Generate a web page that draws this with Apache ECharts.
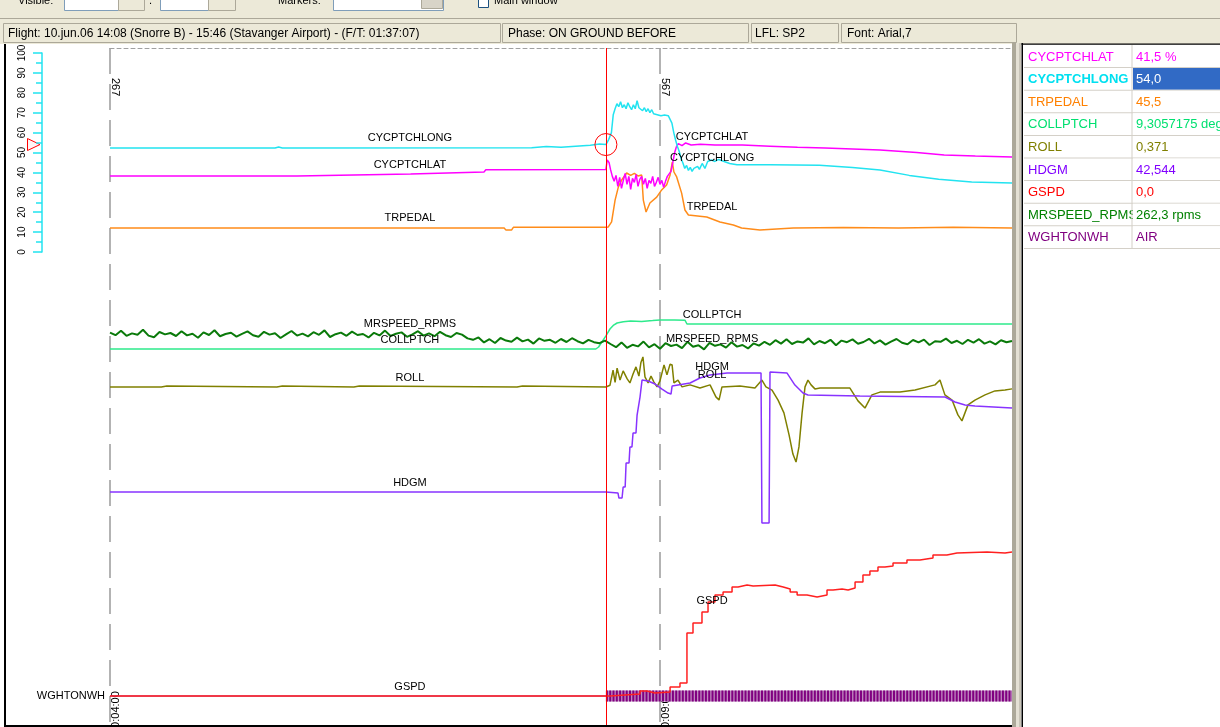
<!DOCTYPE html>
<html>
<head>
<meta charset="utf-8">
<title>Flight data view</title>
<script src="https://cdn.jsdelivr.net/npm/echarts@6/dist/echarts.min.js"></script>
<style>
html, body { margin: 0; padding: 0; overflow: hidden; background: #fff; }
#chart { width: 1220px; height: 727px; }
</style>
</head>
<body>
<div id="chart"></div>
<script>
const FONT = '"Liberation Sans", Arial, sans-serif'

// time axis in seconds, sample counter runs 27 ahead of it
const timeStart = 240
const timeEnd = 732
const timeStep = 300
const sampleStart = 267
const cursorTime = 510.5

// [time s, value] per parameter
const longData = [[240,52.3],[330,52.3],[332,52.8],[334,52.3],[470,52.4],[478,53.0],[486,52.6],[494,53.2],[502,53.6],[507,54.3],[510.5,54.0],[512,56.5],[513.5,60],[514.5,69],[515.5,72],[516.5,74.5],[517.5,73],[518.5,75.5],[519.5,72.5],[520.5,74],[521.5,72],[522.5,75],[523.5,73],[524.5,71.5],[525.5,74],[526.5,72],[527.5,76],[528.5,72.5],[529.5,73.5],[530.5,71],[531.5,72.5],[532.5,70.5],[533.5,72],[534.5,70],[535.5,71.5],[536.5,69.5],[537.5,70.5],[538.5,69],[539.5,70],[540.5,68.5],[541.5,69.5],[542.5,68.8],[543.5,69.5],[544.5,68.5],[545.5,67.5],[546.5,64.8],[547.5,60],[548.5,56.3],[549.5,53],[550.5,50.5],[551.5,47],[552.5,44.7],[553.5,42],[554.5,43.5],[555.5,41],[556.5,42.5],[557.5,40.5],[558.5,42],[559.5,41],[560.5,43],[561.5,41.5],[563,44.5],[564.5,42],[566,45.5],[568,46.2],[570,45.5],[572,46.5],[575,45.5],[578,44.5],[582,43.8],[600,43.8],[627,43.6],[645,42.5],[660,41.2],[676,38.5],[692,36.5],[710,35.2],[732,34.7]]

const latData = [[240,38.2],[342,38.2],[343,39.2],[404,39.2],[405,40.2],[444,40.2],[445,41.3],[510.5,41.5],[511.2,46.2],[512.2,45],[513,41.5],[514,38],[515,35.5],[516,38.5],[517,33],[518,37.5],[519,32],[520,36],[521,39.5],[522,34],[523,38],[524,31.5],[525,37],[526,35],[527,39],[528,33],[529,36.5],[530,38],[531,34],[532,37],[533,32],[534,36],[535,34.5],[536,38],[537,33],[538,35],[539,37.5],[540,34],[541,36],[542,32.5],[543,35.5],[544,38],[545,37],[546,40.5],[547,45],[548,50],[549,53],[550,54.5],[552,53.5],[554,54.8],[557,53.8],[562,54.2],[570,53.8],[585,53.8],[600,53.2],[615,52.6],[630,52.3],[645,51.8],[660,51.3],[680,50],[695,48.7],[712,48.2],[732,47.7]]

const pedalData = [[240,12.1],[455,12.1],[456,11.0],[459,11.0],[460,12.4],[510.5,12.4],[511.8,12.6],[513.6,15.1],[515.5,26.1],[517.3,32.7],[519.1,36.2],[521.8,39.7],[524,38.5],[526,39.5],[528,38.2],[530,38.7],[530.9,26.1],[532.4,20.1],[534.5,24.6],[538.2,27.6],[540.9,31.2],[543.6,33.7],[545.5,38.7],[546.7,45.2],[547.6,40.2],[549.1,37.7],[551.8,29.6],[553.6,21.1],[555.5,18.6],[565.5,17.6],[572.7,15.1],[580,13.6],[584.5,12.1],[594.5,11.1],[612.7,12.1],[640,12.3],[670,12.0],[700,12.4],[732,12.0]]

const collData = [[240,9.3],[300,9.3],[301,9.6],[302,9.3],[505,9.3],[506.5,9.8],[508.5,11.2],[510.5,12.6],[512.7,14.3],[514.5,15.2],[516.6,15.8],[520,16.1],[524,16.3],[530,16.2],[536,16.4],[540,16.55],[548,16.55],[553.6,16.5],[554.7,15.55],[600,15.55],[660,15.55],[732,15.55]]

// rotor speed, rpm, evenly sampled from timeStart to timeEnd
const rpmValues = [267.5,266.2,268.4,265.9,267.1,266.4,268.9,266.0,265.2,267.8,266.6,267.3,265.8,268.2,266.1,266.9,264.9,267.6,266.3,268.7,265.7,266.8,267.4,265.5,266.9,268.1,266.2,265.4,267.9,266.5,267.2,264.8,266.6,268.3,266.0,267.0,265.6,267.7,266.4,268.6,265.3,266.7,267.5,265.9,268.0,266.3,266.8,265.1,267.4,266.1,268.5,265.8,266.9,267.6,265.4,266.6,268.2,266.0,267.1,265.7,267.9,266.2,265.3,267.3,266.5,264.6,
  263.9,265.1,262.6,264.2,262.3,264.8,263.5,262.9,265.0,263.1,264.0,262.0,264.6,263.4,263.9,262.4,264.3,262.8,264.7,263.2,262.1,263.9,262.7,262.2,263.5,
  261.8,260.2,262.6,259.9,261.4,260.6,263.0,260.1,261.7,259.4,262.2,260.8,261.5,259.7,262.9,260.4,261.2,259.1,262.4,260.9,261.6,260.0,262.7,260.5,261.3,259.6,262.1,261.0,
  262.9,261.4,263.7,262.0,264.2,261.8,263.1,262.5,264.6,261.6,263.3,262.2,263.9,261.2,263.5,262.7,264.1,261.9,262.8,264.4,262.1,263.6,261.5,263.0,264.3,262.4,261.7,263.8,262.6,264.0,261.3,263.2,262.9,264.5,262.3,263.4,261.8,263.9,262.5,264.2,262.0,263.1,261.6,263.7,262.7,263.3]

const rollData = [[240,0.37],[268,0.37],[269,0.62],[271,0.62],[272,0.37],[331,0.37],[332,0.62],[334,0.62],[335,0.37],[373,0.37],[374,0.62],[376,0.62],[377,0.37],[462,0.37],[463,0.62],[465,0.62],[466,0.37],[510.5,0.37],[512.7,0.8],[514.4,4.6],[515.5,1.5],[516.6,5.1],[518.2,2.1],[519.9,4.4],[522.1,2.4],[523.6,1.4],[525.3,3.6],[526.9,5.4],[528.5,3.1],[529.6,6.5],[530.7,7.9],[531.8,2.9],[533.5,1.4],[535.1,3.1],[536.7,1.6],[538.4,0.4],[540,1.9],[542.2,5.9],[543.8,3.4],[545.5,6.1],[546.6,5.9],[547.6,1.4],[549.8,2.1],[552,0.4],[556.4,0.9],[561.8,0.1],[567.3,0.9],[570.5,-2.1],[572.2,-2.9],[573.8,0.4],[583.6,0.6],[591.8,0.1],[595.6,2.1],[597.8,0.4],[601.1,-0.4],[604.4,-2.9],[607.6,-6.1],[610.4,-11.6],[612.5,-16.4],[614.2,-18.4],[615.8,-14.6],[617.5,-6.1],[619.1,0.4],[620.7,2.1],[622.4,0.9],[624.5,-0.1],[627.3,0.1],[643.6,0.1],[648,-3.1],[651.8,-4.9],[655.6,-1.6],[660,-0.9],[670.9,-0.9],[679.1,-0.4],[690,0.9],[692.7,2.1],[695.4,-1.6],[699.3,-2.9],[702.5,-6.6],[704.7,-8.1],[708,-4.1],[711.8,-2.9],[717.3,-1.6],[722.7,-0.6],[728.2,-0.4],[732,-0.1]]

const hdgData = [[240,42.5],[510.5,42.5],[511.1,41.5],[517.1,41.5],[517.6,36.5],[519.3,36.5],[519.9,47.5],[521,47.5],[521.5,71.5],[523.1,71.5],[523.6,87.5],[524.7,87.5],[525.3,101.5],[526.9,101.5],[527.5,119.5],[528.5,119.5],[529.1,137.5],[530.2,154.5],[533.5,153.5],[537.3,150.5],[541.1,145.5],[544.4,141.5],[546,140.5],[546.6,148.5],[556.4,151.5],[561.8,156.5],[567.3,159.5],[576.6,161.5],[595.1,161.5],[595.6,11.5],[599.5,11.5],[600,162.5],[609.3,161.5],[613.6,149.5],[618,141.5],[620.7,139.5],[649,138.5],[695.5,137.5],[700.9,132.5],[706.4,129.5],[711.8,128.5],[732,126.5]]

const gspdData = [[240,0],[510.5,0],[512.7,0.5],[520.9,1],[529.1,2.5],[532.9,1.5],[537.3,2],[545.5,4.5],[550.9,6.5],[554.7,31.5],[558,36.5],[562.9,42],[566.2,47],[570,50.5],[574.4,52],[579.3,54.5],[582.6,55.5],[587.5,55],[590.8,55.5],[602.8,54.5],[607.2,53.5],[611,52],[614.8,50.5],[620.2,49.5],[625.7,50.5],[631.1,53],[634.4,53.5],[639.3,53],[642.6,54],[646.4,57],[650.7,60.5],[654.5,62.5],[658.9,64.5],[662.7,65],[667.1,66.5],[674.7,68],[681.8,69],[688.9,70.5],[696.5,71.5],[702,72],[718.4,71.5],[728.2,72],[732,72]]

// weight on wheels state changes
const wowTimes = [240, 510.5, 732]
const wowStates = ['GROUND', 'AIR']

// readout table at the cursor
const readouts = [
	['CYCPTCHLAT', '41,5 %', '#ff00ff'],
	['CYCPTCHLONG', '54,0', '#00e0f0'],
	['TRPEDAL', '45,5', '#ff8000'],
	['COLLPTCH', '9,3057175 deg', '#00e070'],
	['ROLL', '0,371', '#808000'],
	['HDGM', '42,544', '#8000ff'],
	['GSPD', '0,0', '#ff0000'],
	['MRSPEED_RPMS', '262,3 rpms', '#008000'],
	['WGHTONWH', 'AIR', '#800080']
]
const selectedRow = 1

// ---- layout ----
const plotTop = 48
const plotBottom = 725
const labelTimes = [403.6, 568.4]

// value range for a hidden axis so that refValue sits at pixel row refY
function bandAxis(refValue, refY, pxPerUnit) {
	return {
		min: refValue - (plotBottom - refY) / pxPerUnit,
		max: refValue + (refY - plotTop) / pxPerUnit
	}
}

function valueAt(data, t, step) {
	for (let i = 1; i < data.length; i++) {
		if (data[i][0] >= t) {
			const [t0, v0] = data[i - 1]
			const [t1, v1] = data[i]
			if (step) return v0
			return v0 + (v1 - v0) * (t - t0) / (t1 - t0)
		}
	}
	return data[data.length - 1][1]
}

const fmtTime = v => {
	const s = Math.round(v)
	return [Math.floor(s / 3600), Math.floor((s % 3600) / 60), s % 60]
		.map(n => String(n).padStart(2, '0')).join(':')
}

const rpmData = rpmValues.map((v, i) => [timeStart + i * (timeEnd - timeStart) / (rpmValues.length - 1), v])

const wowGround = []
const wowAir = []
wowStates.forEach((s, i) => {
	const target = s === 'AIR' ? wowAir : wowGround
	if (target.length) target.push('-')
	target.push([wowTimes[i], 0], [wowTimes[i + 1], 0])
})

function nameLabels(name, data, offsets, step) {
	return labelTimes.map((t, i) => ({
		coord: [t, valueAt(data, t, step)],
		symbolSize: 0,
		label: { show: true, formatter: name, offset: [0, offsets[i]] }
	}))
}

const markLabelStyle = {
	show: true, position: 'top', distance: 4, color: '#000',
	fontSize: 11, fontFamily: FONT
}

function line(name, data, color, xIdx, yIdx, offsets, extra) {
	return Object.assign({
		name, type: 'line', data, xAxisIndex: xIdx, yAxisIndex: yIdx,
		symbol: 'none', silent: true, animation: false,
		lineStyle: { color, width: 1.5 }, itemStyle: { color },
		markPoint: offsets ? {
			symbol: 'circle', silent: true, animation: false,
			label: markLabelStyle,
			data: nameLabels(name, data, offsets, extra && extra.step)
		} : undefined
	}, extra)
}

const hiddenY = b => ({ gridIndex: 1, type: 'value', show: false, min: b.min, max: b.max })

const cyan = '#22e3f0'
const longSeries = line('CYCPTCHLONG', longData, cyan, 0, 0, [0, 7])
longSeries.markPoint.data.push({
	coord: [cursorTime, valueAt(longData, cursorTime)],
	symbolSize: 22,
	itemStyle: { color: 'rgba(0,0,0,0)', borderColor: '#ff0000', borderWidth: 1 },
	label: { show: false }
})

const option = {
	backgroundColor: '#ffffff',
	animation: false,
	grid: [
		{ left: 110, right: 208, top: 53, height: 199, outerBoundsMode: 'none' },
		{ left: 110, right: 208, top: plotTop, bottom: 727 - plotBottom, outerBoundsMode: 'none' }
	],
	xAxis: [
		{ gridIndex: 0, type: 'value', min: timeStart, max: timeEnd, show: false },
		{
			gridIndex: 1, type: 'value', min: timeStart, max: timeEnd, interval: timeStep, position: 'bottom',
			axisLine: { show: false, onZero: false }, axisTick: { show: false },
			axisLabel: {
				inside: true, rotate: 90, margin: -9, showMaxLabel: false, formatter: fmtTime,
				color: '#000', fontSize: 11, fontFamily: FONT, verticalAlign: 'top'
			},
			splitLine: { show: true, showMaxLine: false, lineStyle: { color: '#9a9a9a', width: 1.5, type: [26, 10] } }
		},
		{
			gridIndex: 1, type: 'value', min: sampleStart, max: sampleStart + timeEnd - timeStart,
			interval: timeStep, position: 'top',
			axisLine: { show: true, onZero: false, lineStyle: { color: '#a0a0a0', type: [4, 3] } },
			axisTick: { show: false },
			axisLabel: {
				inside: true, rotate: 90, margin: 30, showMaxLabel: false,
				color: '#000', fontSize: 11, fontFamily: FONT, verticalAlign: 'bottom'
			},
			splitLine: { show: false }
		}
	],
	yAxis: [
		{
			gridIndex: 0, type: 'value', min: 0, max: 100, interval: 10, position: 'left', offset: 68,
			axisLine: { show: true, lineStyle: { color: cyan, width: 1.5 } },
			axisTick: { show: true, length: 9, lineStyle: { color: cyan, width: 1.5 } },
			minorTick: { show: true, splitNumber: 2, length: 6, lineStyle: { color: cyan, width: 1.5 } },
			axisLabel: { rotate: 90, margin: 15, color: '#000', fontSize: 10, fontFamily: FONT },
			splitLine: { show: false }
		},
		hiddenY(bandAxis(9.3, 349, 4)),      // COLLPTCH deg
		hiddenY(bandAxis(262.3, 343, 2)),    // MRSPEED rpm
		hiddenY(bandAxis(0.371, 387, 4)),    // ROLL deg
		hiddenY(bandAxis(42.544, 492, 1)),   // HDGM deg
		hiddenY(bandAxis(0, 696, 2)),        // GSPD kt
		hiddenY(bandAxis(0, 696, 1))         // WGHTONWH state
	],
	series: [
		line('TRPEDAL', pedalData, '#ff8c1a', 0, 0, [0, -3]),
		line('CYCPTCHLAT', latData, '#ff00ff', 0, 0, [0, 2]),
		longSeries,
		line('COLLPTCH', collData, '#2eea8c', 1, 1, [0, 0]),
		line('MRSPEED_RPMS', rpmData, '#0a7a0a', 1, 2, [-2, 4], { lineStyle: { color: '#0a7a0a', width: 2 } }),
		line('ROLL', rollData, '#808000', 1, 3, [0, -5]),
		line('HDGM', hdgData, '#8833ff', 1, 4, [0, 2]),
		line('WGHTONWH', wowGround, '#800080', 1, 6, null, { lineStyle: { color: '#800080', width: 1 } }),
		line('WGHTONWH', wowAir, '#c08ac0', 1, 6, null, { lineStyle: { color: '#c08ac0', width: 11 } }),
		line('WGHTONWH', wowAir, '#800080', 1, 6, null, { lineStyle: { color: '#800080', width: 11, type: [2, 1.3] } }),
		line('GSPD', gspdData, '#ff2020', 1, 5, [0, 8], {
			step: 'end',
			markLine: {
				symbol: 'none', silent: true, animation: false, label: { show: false },
				lineStyle: { color: '#ff0000', width: 1, type: 'solid' },
				data: [{ xAxis: cursorTime }]
			}
		})
	]
}

const chart = echarts.init(document.getElementById('chart'), null, { renderer: 'canvas' })
chart.setOption(option)

// ---- window chrome and readout panel ----
const txt = (x, y, text, font, fill, extra) => ({
	type: 'text', x, y, silent: true,
	style: Object.assign({ text, font, fill, verticalAlign: 'middle' }, extra)
})
const box = (x, y, w, h, fill, stroke) => ({
	type: 'rect', silent: true, shape: { x, y, width: w, height: h },
	style: { fill: fill || 'none', stroke: stroke || null, lineWidth: 1 }
})

const g = []
// toolbar, mostly scrolled out of view
g.push(box(0, 0, 1220, 19, '#ece9d8'))
g.push(box(0, 18, 1220, 1, '#aca899'))
g.push(txt(18, 6, 'Visible:', '11px ' + FONT, '#000', { verticalAlign: 'bottom' }))
g.push(box(64.5, -3.5, 54, 14, '#fff', '#7f9db9'))
g.push(box(118.5, -3.5, 26, 14, '#ece9d8', '#aca899'))
g.push(txt(149, 6, '.', '11px ' + FONT, '#000', { verticalAlign: 'bottom' }))
g.push(box(160.5, -3.5, 48, 14, '#fff', '#7f9db9'))
g.push(box(208.5, -3.5, 27, 14, '#ece9d8', '#aca899'))
g.push(txt(278, 6, 'Markers:', '11px ' + FONT, '#000', { verticalAlign: 'bottom' }))
g.push(box(333.5, -3.5, 110, 14, '#fff', '#7f9db9'))
g.push(box(421.5, -3.5, 21, 12, '#d8d4c8', '#aca899'))
g.push(box(478.5, -3.5, 10, 11, '#fff', '#1c5180'))
g.push(txt(494, 6, 'Main window', '11px ' + FONT, '#000', { verticalAlign: 'bottom' }))
// status bar
g.push(box(0, 19, 1220, 25, '#ece9d8'))
;[[3, 497], [502, 246], [751, 87], [841, 175]].forEach(([x, w]) => {
	g.push(box(x + 0.5, 23.5, w, 19, null, '#aca899'))
})
g.push(txt(8, 34, 'Flight: 10.jun.06 14:08 (Snorre B) - 15:46 (Stavanger Airport) - (F/T: 01:37:07)', '12px ' + FONT, '#000'))
g.push(txt(508, 34, 'Phase: ON GROUND BEFORE', '12px ' + FONT, '#000'))
g.push(txt(755, 34, 'LFL: SP2', '12px ' + FONT, '#000'))
g.push(txt(847, 34, 'Font: Arial,7', '12px ' + FONT, '#000'))
// chart frame and splitter
g.push(box(4, 44, 2, 683, '#000'))
g.push(box(4, 725, 1009, 2, '#000'))
g.push(box(1012, 43, 4, 684, '#aca899'))
g.push(box(1016, 43, 3, 684, '#e4e0d4'))
g.push(box(1019, 43, 2, 684, '#c8c4b8'))
g.push(box(1021.5, 43, 1.5, 684, '#000'))
g.push(box(1021.5, 43.5, 199, 1.2, '#000'))
// readout table
const rowH = 22.6
readouts.forEach(([name, value, color], i) => {
	const top = 45 + i * rowH
	const sel = i === selectedRow
	g.push(txt(1028, top + 12, name, (sel ? 'bold ' : '') + '13px ' + FONT, color))
	g.push(box(1133, top + 0.5, 87, rowH - 1, sel ? '#316ac5' : '#fff'))
	g.push(txt(1136, top + 12, value, '13px ' + FONT, sel ? '#fff' : color))
	g.push(box(1024, top + rowH - 0.5, 196, 1, '#d4d0c8'))
})
g.push(box(1131.5, 45, 1, rowH * readouts.length, '#d4d0c8'))

// current value marker on the cyan scale, and the on-ground parameter name
const markY = chart.convertToPixel({ yAxisIndex: 0 }, valueAt(longData, cursorTime))
g.push({
	type: 'polygon', silent: true,
	shape: { points: [[27.5, markY - 6], [27.5, markY + 6], [40, markY]] },
	style: { fill: '#fff4f4', stroke: '#ff0000', lineWidth: 1 }
})
const wowY = chart.convertToPixel({ yAxisIndex: 6 }, 0)
g.push(txt(105, wowY, 'WGHTONWH', '11px ' + FONT, '#000', { align: 'right' }))

chart.setOption({ graphic: g })
</script>
</body>
</html>
